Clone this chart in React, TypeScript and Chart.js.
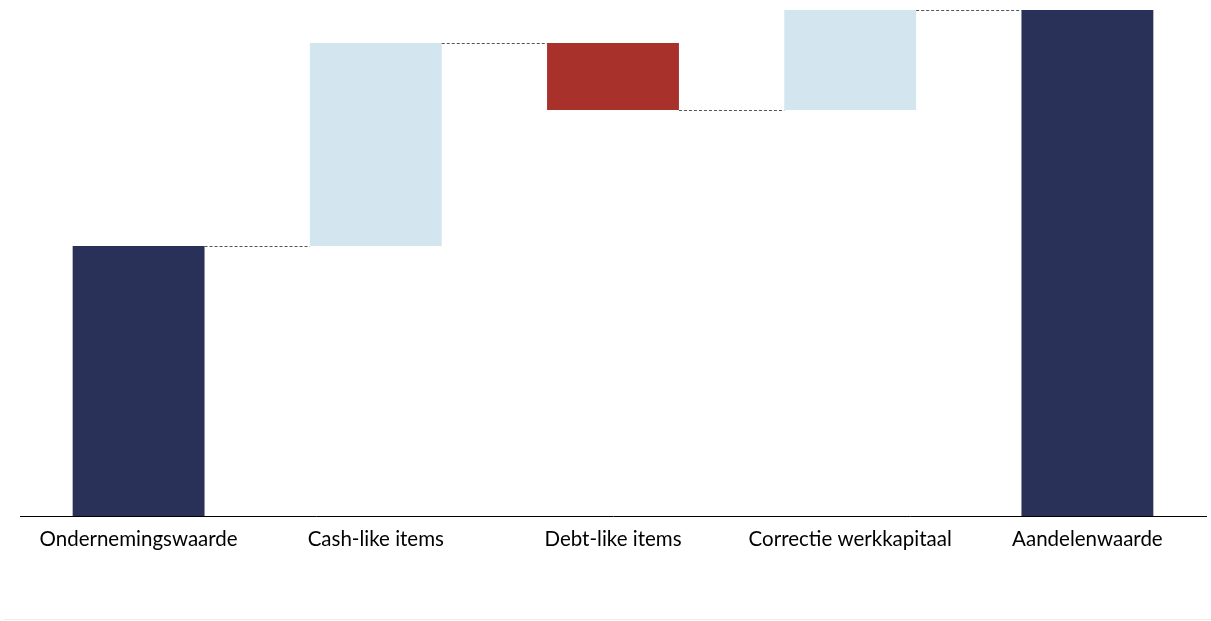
import React, { useEffect, useRef } from "react";
import { Chart, registerables } from "chart.js";

Chart.register(...registerables);

const categories = ["Ondernemingswaarde", "Cash-like items", "Debt-like items", "Correctie werkkapitaal", "Aandelenwaarde"];
const changes = [270, 203, -67, 100];
const barColors = ["#2a3158", "#d3e6ef", "#a8322b", "#d3e6ef", "#2a3158"];

function buildRanges(): [number, number][] {
  const out: [number, number][] = [];
  let level = 0;
  changes.forEach((c, i) => {
    if (i === 0) {
      out.push([0, c]);
    } else {
      out.push([level, level + c]);
    }
    level += c;
  });
  out.push([0, level]);
  return out;
}

const connectorPlugin = {
  id: "connectors",
  afterDatasetsDraw(chart: any) {
    const meta = chart.getDatasetMeta(0);
    const ranges = chart.data.datasets[0].data as [number, number][];
    const y = chart.scales.y;
    const ctx = chart.ctx;
    ctx.save();
    ctx.strokeStyle = "#555555";
    ctx.lineWidth = 1;
    ctx.setLineDash([3, 2]);
    for (let i = 0; i < ranges.length - 1; i++) {
      const a = meta.data[i];
      const b = meta.data[i + 1];
      const level = ranges[i][1];
      const py = Math.round(y.getPixelForValue(level)) + 0.5;
      ctx.beginPath();
      ctx.moveTo(a.x + a.width / 2, py);
      ctx.lineTo(b.x - b.width / 2, py);
      ctx.stroke();
    }
    ctx.restore();
  },
};

export default function App() {
  const ref = useRef<HTMLCanvasElement>(null);
  useEffect(() => {
    if (!ref.current) return;
    const chart = new Chart(ref.current, {
      type: "bar",
      data: {
        labels: categories,
        datasets: [
          {
            data: buildRanges() as any,
            backgroundColor: barColors,
            borderWidth: 0,
            barPercentage: 0.556,
            categoryPercentage: 1,
          },
        ],
      },
      options: {
        animation: false,
        responsive: true,
        maintainAspectRatio: false,
        layout: { padding: { top: 10, left: 20, right: 5, bottom: 0 } },
        plugins: { legend: { display: false }, tooltip: { enabled: false } },
        scales: {
          x: {
            grid: { display: false },
            border: { display: true, color: "#000000", width: 1 },
            ticks: {
              color: "#000000",
              padding: 3,
              font: { family: "Lato", size: 20.5 },
              maxRotation: 0,
              autoSkip: false,
            },
            afterFit: (scale: any) => {
              scale.height = 105;
            },
          },
          y: {
            display: false,
            min: 0,
            max: 506,
          },
        },
      },
      plugins: [connectorPlugin],
    });
    return () => chart.destroy();
  }, []);
  return (
    <div style={{ position: "fixed", left: 0, top: 0, width: 1211, height: 621, background: "#fff" }}>
      <canvas ref={ref} />
      <div style={{ position: "absolute", left: 4, top: 619, width: 1207, height: 1, background: "#f1ece0" }} />
    </div>
  );
}
